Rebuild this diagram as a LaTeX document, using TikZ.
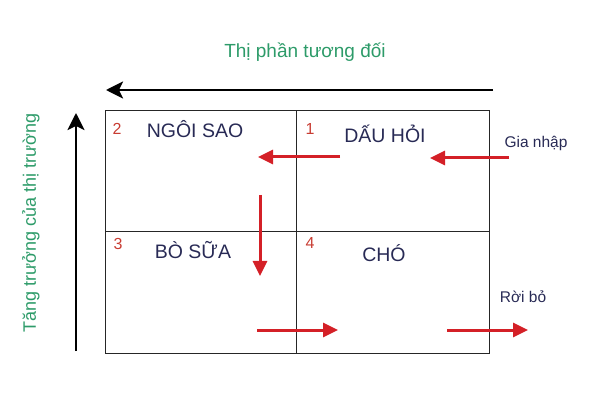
\documentclass[tikz,border=0pt]{standalone}
\usepackage{fontspec}
\setmainfont{Liberation Sans}
\usetikzlibrary{arrows.meta}
\definecolor{axgreen}{RGB}{45,155,105}
\definecolor{navy}{RGB}{40,42,85}
\definecolor{numred}{RGB}{200,60,50}
\definecolor{arrred}{RGB}{212,32,39}
\tikzset{
  lbl/.style={font=\fontsize{19.5}{21}\selectfont, text=navy, inner sep=0pt},
  num/.style={font=\fontsize{16}{18}\selectfont, text=numred, inner sep=0pt},
  axlbl/.style={font=\fontsize{19}{21}\selectfont, text=axgreen, inner sep=0pt},
  vlbl/.style={font=\fontsize{18}{20}\selectfont, text=axgreen, inner sep=0pt, rotate=90},
  side/.style={font=\fontsize{15.5}{17}\selectfont, text=navy, inner sep=0pt},
  axarrow/.style={line width=2.6pt, -{Stealth[length=17pt,width=17pt,inset=4pt]}},
  redarrow/.style={draw=arrred, line width=3pt, -{Triangle[length=15pt,width=14pt]}},
  gridline/.style={line width=1pt, draw=black!85}
}
\begin{document}
\begin{tikzpicture}[x=1pt,y=-1pt]
\useasboundingbox (0,0) rectangle (600,406);
% grid
\draw[gridline] (105,111) rectangle (489,353);
\draw[gridline] (296,111) -- (296,353);
\draw[gridline] (105,232) -- (489,232);
% axes
\coordinate (hs) at (493,90);
\coordinate (he) at (106,90);
\draw[axarrow] (hs) -- (he);
\node[axlbl] (xlab) at (305,52) {Thị phần tương đối};
\coordinate (vs) at (76,351);
\coordinate (ve) at (76,113);
\draw[axarrow] (vs) -- (ve);
\node[vlbl] (ylab) at (31,223) {Tăng trưởng của thị trường};
% numbers
\node[num] (n2) at (117,129) {2};
\node[num] (n1) at (310,129) {1};
\node[num] (n3) at (118,244) {3};
\node[num] (n4) at (310,243) {4};
% labels
\node[lbl] (star) at (195,129) {NGÔI SAO};
\node[lbl] (quest) at (385,134) {DẤU HỎI};
\node[lbl] (cow) at (193,250) {BÒ SỮA};
\node[lbl] (dog) at (384,253) {CHÓ};
\node[side] (enter) at (536,143) {Gia nhập};
\node[side] (exit) at (523,297) {Rời bỏ};
% red arrows
\coordinate (a1s) at (340,157); \coordinate (a1e) at (258,157);
\coordinate (a2s) at (509,158); \coordinate (a2e) at (430,158);
\coordinate (a3s) at (260,195); \coordinate (a3e) at (260,276);
\coordinate (a4s) at (257,330); \coordinate (a4e) at (338,330);
\coordinate (a5s) at (447,330); \coordinate (a5e) at (528,330);
\draw[redarrow] (a1s) -- (a1e);
\draw[redarrow] (a2s) -- (a2e);
\draw[redarrow] (a3s) -- (a3e);
\draw[redarrow] (a4s) -- (a4e);
\draw[redarrow] (a5s) -- (a5e);
\end{tikzpicture}
\end{document}
